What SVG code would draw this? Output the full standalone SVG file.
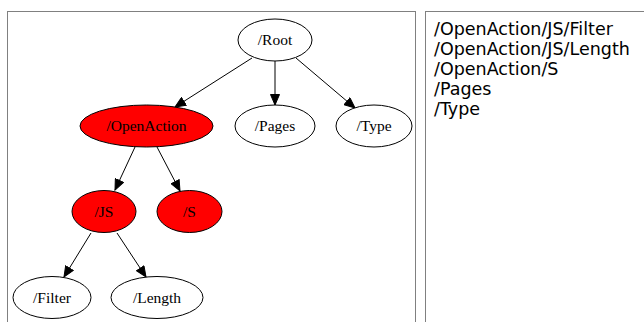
<svg xmlns="http://www.w3.org/2000/svg" width="644" height="322" viewBox="0 0 644 322">
<style>
.n ellipse{stroke:#000;stroke-width:1}
.w{fill:#fff}
.r{fill:#f00}
.n text{font-family:"Liberation Serif",serif;font-size:15.5px;text-anchor:middle;fill:#000}
.e{stroke:#000;stroke-width:1;fill:none;marker-end:url(#a)}
.lst{font-family:"DejaVu Sans",sans-serif;font-size:17.5px;fill:#000}
</style>
<defs>
<marker id="a" markerWidth="12" markerHeight="10" refX="11" refY="5" orient="auto" markerUnits="userSpaceOnUse">
<path d="M0.5,0.5 L11,5 L0.5,9.5 Z" fill="#000" stroke="#000" stroke-width="1"/>
</marker>
</defs>
<rect x="0" y="0" width="644" height="322" fill="#fff"/>
<rect x="7.5" y="11.5" width="408" height="320" fill="none" stroke="#808080" stroke-width="1"/>
<rect x="425.5" y="11.5" width="230" height="320" fill="none" stroke="#808080" stroke-width="1"/>
<g id="edges">
<line class="e" x1="252" y1="58" x2="175" y2="107"/>
<line class="e" x1="275" y1="61" x2="275" y2="105"/>
<line class="e" x1="296" y1="58" x2="355" y2="108"/>
<line class="e" x1="135" y1="147" x2="115" y2="190"/>
<line class="e" x1="157" y1="147" x2="180" y2="191"/>
<line class="e" x1="91" y1="233" x2="64" y2="277"/>
<line class="e" x1="117" y1="233" x2="146" y2="277"/>
</g>
<g id="root" class="n"><ellipse class="w" cx="275" cy="40" rx="37" ry="21"/><text x="275" y="45">/Root</text></g>
<g id="openaction" class="n"><ellipse class="r" cx="146.5" cy="126" rx="66.5" ry="21"/><text x="146.5" y="131">/OpenAction</text></g>
<g id="pages" class="n"><ellipse class="w" cx="275" cy="126" rx="40" ry="21"/><text x="275" y="131">/Pages</text></g>
<g id="type" class="n"><ellipse class="w" cx="374" cy="126" rx="38" ry="21"/><text x="374" y="131">/Type</text></g>
<g id="js" class="n"><ellipse class="r" cx="104" cy="211.5" rx="32" ry="21"/><text x="104" y="216.5">/JS</text></g>
<g id="s" class="n"><ellipse class="r" cx="189.5" cy="211.5" rx="32.5" ry="21"/><text x="189.5" y="216.5">/S</text></g>
<g id="filter" class="n"><ellipse class="w" cx="52" cy="297.5" rx="39" ry="21"/><text x="52" y="302.5">/Filter</text></g>
<g id="length" class="n"><ellipse class="w" cx="157" cy="297.5" rx="46" ry="21"/><text x="157" y="302.5">/Length</text></g>
<g id="list" class="lst">
<text x="434" y="34.5">/OpenAction/JS/Filter</text>
<text x="434" y="54.5">/OpenAction/JS/Length</text>
<text x="434" y="74.5">/OpenAction/S</text>
<text x="434" y="94.5">/Pages</text>
<text x="434" y="114.5">/Type</text>
</g>
</svg>
